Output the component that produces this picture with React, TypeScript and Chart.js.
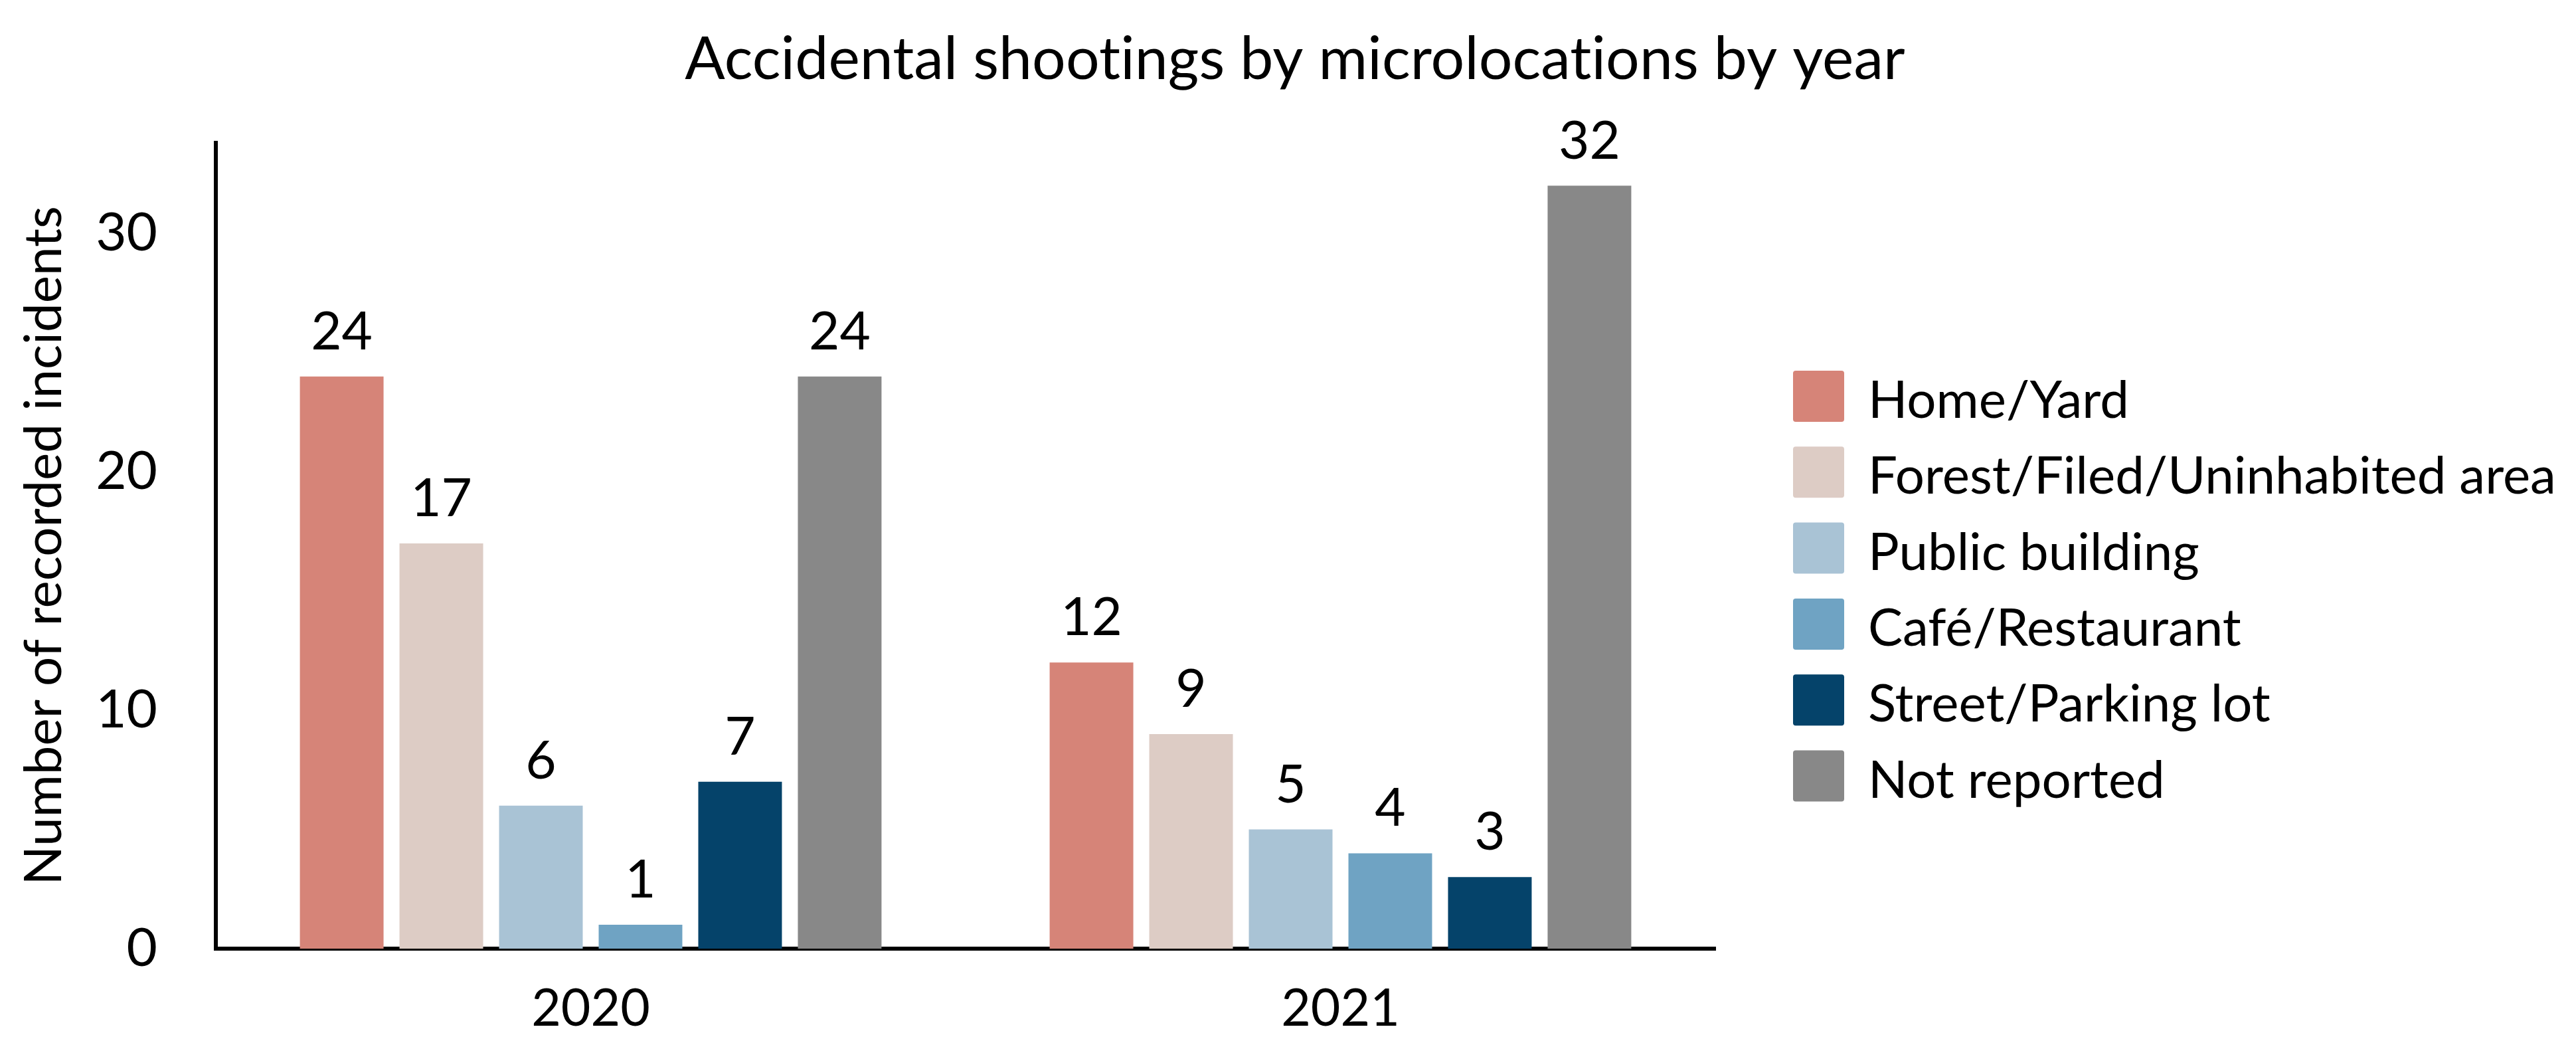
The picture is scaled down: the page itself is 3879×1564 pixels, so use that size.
import React, { useEffect, useRef } from "react";
import { Chart, registerables } from "chart.js";

Chart.register(...registerables);

const chartTitle = "Accidental shootings by microlocations by year";
const yAxisTitle = "Number of recorded incidents";
const years = ["2020", "2021"];
const seriesNames = [
  "Home/Yard",
  "Forest/Filed/Uninhabited area",
  "Public building",
  "Café/Restaurant",
  "Street/Parking lot",
  "Not reported",
];
const homeYard = [24, 12];
const forestField = [17, 9];
const publicBuilding = [6, 5];
const cafeRestaurant = [1, 4];
const streetParking = [7, 3];
const notReported = [24, 32];
const seriesValues = [homeYard, forestField, publicBuilding, cafeRestaurant, streetParking, notReported];
const seriesColors = ["#d68478", "#ddccc5", "#a9c3d5", "#6fa3c3", "#05436a", "#888888"];
const yTickStep = 10;
const yMax = 33.8;

const FONT = "Lato";

const W = 3879;
const H = 1564;

const titlePlugin = {
  id: "centeredTitle",
  afterDraw(chart: any) {
    const ctx = chart.ctx;
    ctx.save();
    ctx.font = `89.5px ${FONT}`;
    try {
      (ctx as any).letterSpacing = "0.1px";
    } catch (e) {}
    ctx.fillStyle = "#000";
    ctx.textAlign = "center";
    ctx.textBaseline = "alphabetic";
    ctx.fillText(chartTitle, 1950, 119);
    ctx.restore();
  },
};

const valueLabelPlugin = {
  id: "valueLabels",
  afterDatasetsDraw(chart: any) {
    const ctx = chart.ctx;
    ctx.save();
    ctx.font = `80px ${FONT}`;
    ctx.fillStyle = "#000";
    ctx.textAlign = "center";
    ctx.textBaseline = "alphabetic";
    chart.data.datasets.forEach((ds: any, di: number) => {
      const meta = chart.getDatasetMeta(di);
      meta.data.forEach((el: any, i: number) => {
        ctx.fillText(String(ds.data[i]), el.x, el.y - 41);
      });
    });
    ctx.restore();
  },
};

const customLegendPlugin = {
  id: "customLegend",
  afterDraw(chart: any) {
    const ctx = chart.ctx;
    const area = chart.chartArea;
    const boxX = area.right + 117;
    const box = 77;
    const firstTop = 558;
    const step = 114.3;
    ctx.save();
    ctx.font = `78px ${FONT}`;
    ctx.textAlign = "left";
    ctx.textBaseline = "alphabetic";
    chart.data.datasets.forEach((ds: any, i: number) => {
      const top = firstTop + i * step;
      ctx.fillStyle = ds.backgroundColor;
      ctx.beginPath();
      (ctx as any).roundRect(boxX, top, box, box, 4);
      ctx.fill();
      ctx.fillStyle = "#000";
      ctx.fillText(ds.label, boxX + 113, top + 71);
    });
    ctx.restore();
  },
};

export default function App() {
  const ref = useRef<HTMLCanvasElement | null>(null);

  useEffect(() => {
    document.body.style.margin = "0";
    const canvas = ref.current;
    if (!canvas) return;
    const chart = new Chart(canvas, {
      type: "bar",
      data: {
        labels: years,
        datasets: seriesNames.map((name, i) => ({
          label: name,
          data: seriesValues[i],
          backgroundColor: seriesColors[i],
          borderWidth: 0,
          barPercentage: 0.84,
          categoryPercentage: 0.797,
        })),
      },
      options: {
        responsive: false,
        animation: false,
        devicePixelRatio: 1,
        layout: { padding: { left: 0, right: W - 2583, top: 215, bottom: 0 } },
        plugins: {
          legend: { display: false },
          tooltip: { enabled: false },
          title: { display: false },
        },
        scales: {
          x: {
            grid: { display: false, drawTicks: false },
            border: { display: true, width: 6, color: "#000" },
            ticks: {
              color: "#000",
              font: { family: FONT, size: 77, lineHeight: 1.2 },
              padding: 44.8,
            },
            afterFit: (s: any) => {
              s.height = 133;
            },
          },
          y: {
            min: 0,
            max: yMax,
            grid: { display: false, drawTicks: false },
            border: { display: true, width: 6, color: "#000" },
            ticks: {
              stepSize: yTickStep,
              color: "#000",
              font: { family: FONT, size: 80, lineHeight: 1.2 },
              padding: 88,
            },
            afterBuildTicks: (s: any) => {
              s.ticks = s.ticks.filter((t: any) => t.value % yTickStep === 0);
            },
            title: {
              display: true,
              text: yAxisTitle,
              color: "#000",
              font: { family: FONT, size: 78, lineHeight: 1.2 },
              padding: { top: 20, bottom: 0 },
            },
            afterFit: (s: any) => {
              s.width = 325;
            },
          },
        },
      },
      plugins: [valueLabelPlugin, customLegendPlugin, titlePlugin],
    } as any);
    return () => chart.destroy();
  }, []);

  return (
    <div style={{ width: W, height: H, background: "#fff" }}>
      <canvas ref={ref} width={W} height={H} style={{ display: "block", width: W, height: H }} />
    </div>
  );
}
